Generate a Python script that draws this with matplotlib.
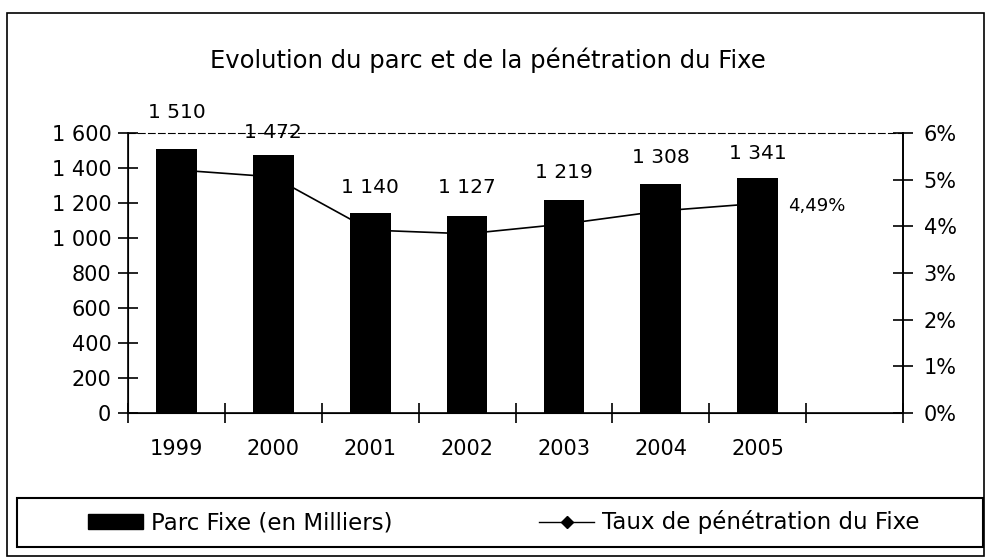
# Evolution du parc et de la pénétration du Fixe
import matplotlib
matplotlib.use("Agg")
import matplotlib.pyplot as plt
from matplotlib.patches import Rectangle
from matplotlib.ticker import FuncFormatter, MultipleLocator

plt.rcParams['font.family'] = ['DejaVu Sans']

# Données
annees = ['1999', '2000', '2001', '2002', '2003', '2004', '2005']
parc_fixe = [1510, 1472, 1140, 1127, 1219, 1308, 1341]        # en milliers
taux_penetration = [5.21, 5.06, 3.92, 3.84, 4.05, 4.33, 4.49]  # en %
dernier_taux = '4,49%'

# décalage vertical (en points) du centre des étiquettes au-dessus des barres
decalage_etiquettes = [26, 16.5, 19, 20, 19.5, 19.5, 18]


def milliers(v, pos=None):
    return f"{int(v):,}".replace(",", " ")


fig = plt.figure(figsize=(9.86, 5.59), dpi=100)
ax = fig.add_axes([128 / 986, 1 - 413 / 559, 775 / 986, 280 / 559])

x = list(range(len(annees)))
ax.bar(x, parc_fixe, width=0.42, color='black', zorder=2)

for xi, v, dy in zip(x, parc_fixe, decalage_etiquettes):
    ax.annotate(milliers(v), (xi, v), xytext=(0, dy), textcoords='offset points',
                ha='center', va='center', fontsize=14.5)

ax.set_xlim(-0.5, 7.5)
ax.set_ylim(0, 1600)
ax.yaxis.set_major_locator(MultipleLocator(200))
ax.yaxis.set_major_formatter(FuncFormatter(milliers))
ax.set_xticks(x)
ax.set_xticklabels(annees)
ax.set_xticks([i - 0.5 for i in range(9)], minor=True)
ax.tick_params(axis='x', which='major', length=0, pad=19, labelsize=15)
ax.tick_params(axis='x', which='minor', direction='inout', length=14, width=1.2)
ax.tick_params(axis='y', direction='inout', length=14, width=1.2, pad=5, labelsize=15)

ax.spines['top'].set_linestyle((0, (6, 3)))
ax.spines['top'].set_linewidth(0.8)
for s in ['left', 'bottom', 'right']:
    ax.spines[s].set_linewidth(1.2)

# axe secondaire : taux de pénétration
ax2 = ax.twinx()
ax2.plot(x, taux_penetration, color='black', linewidth=1.2, marker='D',
         markersize=5, zorder=1)
ax2.set_ylim(0, 6)
ax2.yaxis.set_major_locator(MultipleLocator(1))
ax2.yaxis.set_major_formatter(FuncFormatter(lambda v, p: f"{int(v)}%"))
ax2.tick_params(axis='y', direction='inout', length=14, width=1.2, pad=8, labelsize=15)
ax2.spines['top'].set_visible(False)
ax2.spines['right'].set_linewidth(1.2)
ax2.annotate(dernier_taux, (x[-1], taux_penetration[-1]), xytext=(22, -2),
             textcoords='offset points', ha='left', va='center', fontsize=13)

fig.text(488 / 986, 1 - 60 / 559, 'Evolution du parc et de la pénétration du Fixe',
         ha='center', va='center', fontsize=17.5)

# légende
fig.legend(handles=[
    plt.Rectangle((0, 0), 1, 1, color='black'),
    plt.Line2D([0], [0], color='black', linewidth=1, marker='D', markersize=6)],
    labels=['Parc Fixe (en Milliers)', 'Taux de pénétration du Fixe'],
    loc='center', ncol=2, mode='expand', frameon=False, fontsize=16.5,
    bbox_to_anchor=(88 / 986, 1 - 547 / 559, 832 / 986, 49 / 559),
    borderaxespad=0, borderpad=0, handlelength=2.4, handleheight=0.6,
    handletextpad=0.35)
fig.add_artist(Rectangle((17 / 986, 1 - 547 / 559), 966 / 986, 49 / 559,
                         transform=fig.transFigure, fill=False,
                         edgecolor='black', linewidth=1.5))
# cadre extérieur
fig.add_artist(Rectangle((7 / 986, 1 - 556 / 559), 977 / 986, 543 / 559,
                         transform=fig.transFigure, fill=False,
                         edgecolor='black', linewidth=1.2))

fig.savefig('out.png', dpi=100)
